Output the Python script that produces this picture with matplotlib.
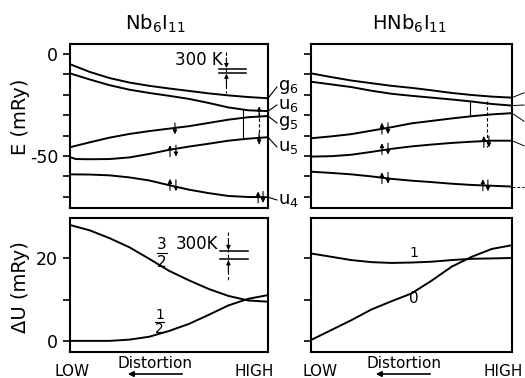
import numpy as np
import matplotlib
matplotlib.use("Agg")
import matplotlib.pyplot as plt

plt.rcParams['font.family'] = ['DejaVu Sans']
plt.rcParams['mathtext.default'] = 'regular'
plt.rcParams['axes.unicode_minus'] = False

# Distortion axis: 0 = LOW, 1 = HIGH
x = [0.0, 0.1, 0.2, 0.3, 0.4, 0.5, 0.6, 0.7, 0.8, 0.9, 1.0]

# Nb6I11 levels (mRy)
nb_g6 = [-5.0, -8.8, -11.8, -14.0, -15.6, -16.9, -18.1, -19.3, -20.3, -21.1, -21.7]
nb_u6 = [-9.5, -12.5, -15.3, -17.5, -19.1, -20.5, -22.0, -24.0, -26.2, -27.6, -28.0]
nb_g5 = [-45.7, -43.3, -41.0, -39.2, -37.8, -36.6, -35.4, -33.8, -32.2, -31.0, -30.4]
nb_u5_x = [0.0, 0.03, 0.1, 0.2, 0.3, 0.4, 0.5, 0.6, 0.7, 0.8, 0.9, 1.0]
nb_u5 = [-50.6, -51.5, -51.6, -51.5, -50.7, -49.0, -47.0, -45.4, -44.0, -42.5, -41.5, -40.8]
nb_u4 = [-59.0, -59.1, -59.5, -60.5, -62.0, -64.3, -66.5, -68.2, -69.6, -70.1, -70.2]

# HNb6I11 levels (mRy)
h_g6 = [-9.5, -11.3, -13.0, -14.3, -15.6, -16.6, -17.8, -19.1, -20.1, -20.9, -21.4]
h_u6 = [-13.6, -14.9, -16.2, -18.0, -19.5, -20.5, -21.4, -22.3, -23.3, -24.5, -25.3]
h_g5 = [-41.3, -40.4, -39.3, -37.6, -35.9, -34.0, -32.8, -31.6, -30.5, -29.6, -29.0]
h_u5 = [-50.3, -50.1, -49.4, -48.0, -46.5, -45.3, -44.4, -43.6, -43.0, -42.5, -42.5]
h_u4 = [-57.7, -58.3, -59.0, -60.0, -61.2, -62.1, -62.8, -63.6, -64.2, -64.6, -65.0]

# Delta U (mRy)
nb_s32 = [28.1, 26.8, 24.9, 22.7, 19.9, 17.0, 14.7, 12.6, 10.9, 9.8, 9.5]
nb_s12 = [0.0, 0.0, 0.0, 0.3, 1.0, 2.4, 4.1, 6.3, 8.6, 10.2, 11.1]
h_s1 = [21.2, 20.4, 19.6, 19.1, 18.9, 19.0, 19.2, 19.6, 19.9, 20.0, 20.1]
h_s0 = [0.2, 2.6, 5.0, 7.6, 9.6, 11.5, 14.6, 18.0, 20.4, 22.3, 23.2]

W, H = 525, 378
fig = plt.figure(figsize=(W / 100, H / 100), dpi=100)


def box(x0, y0, x1, y1):
    return [x0 / W, 1 - y1 / H, (x1 - x0) / W, (y1 - y0) / H]


ax1 = fig.add_axes(box(70, 44, 268, 208))
ax2 = fig.add_axes(box(311, 44, 512, 208))
ax3 = fig.add_axes(box(70, 218, 268, 352))
ax4 = fig.add_axes(box(311, 218, 512, 352))

for ax in (ax1, ax2):
    ax.set_ylim(-75.5, 4.9)
    ax.set_yticks([-50, 0])
    ax.set_yticks([-70, -60, -40, -30, -20, -10], minor=True)
for ax in (ax3, ax4):
    ax.set_ylim(-2.7, 29.8)
    ax.set_yticks([0, 20])
    ax.set_yticks([10], minor=True)
for ax in (ax1, ax2, ax3, ax4):
    ax.set_xlim(0, 1)
    ax.set_xticks([])
    for s in ax.spines.values():
        s.set_linewidth(1.5)
    ax.tick_params(axis='y', which='both', direction='out', length=5, width=1.2, labelsize=12.5)
for ax in (ax2, ax4):
    ax.set_yticklabels([])

lw = 1.4
for ys in (nb_g6, nb_u6, nb_g5, nb_u4):
    ax1.plot(x, ys, color='k', lw=lw)
ax1.plot(nb_u5_x, nb_u5, color='k', lw=lw)
for ys in (h_g6, h_u6, h_g5, h_u5, h_u4):
    ax2.plot(x, ys, color='k', lw=lw)
ax3.plot(x, nb_s32, color='k', lw=lw)
ax3.plot(x, nb_s12, color='k', lw=lw)
ax4.plot(x, h_s1, color='k', lw=lw)
ax4.plot(x, h_s0, color='k', lw=lw)

# titles and axis labels
fig.text(155 / W, 1 - 24 / H, r'Nb$_6$I$_{11}$', ha='center', va='center', fontsize=14)
fig.text(410 / W, 1 - 24 / H, r'HNb$_6$I$_{11}$', ha='center', va='center', fontsize=14)
fig.text(20 / W, 1 - 117 / H, 'E (mRy)', rotation=90, ha='center', va='center', fontsize=14)
fig.text(20 / W, 1 - 287 / H, 'ΔU (mRy)', rotation=90, ha='center', va='center', fontsize=14)

for x0, xd, xh, xa0, xa1 in ((72, 155, 254, 185, 125), (320, 404, 503, 433, 373)):
    fig.text(x0 / W, 1 - 371 / H, 'LOW', ha='center', va='center', fontsize=11)
    fig.text(xd / W, 1 - 363 / H, 'Distortion', ha='center', va='center', fontsize=11)
    fig.text(xh / W, 1 - 371 / H, 'HIGH', ha='center', va='center', fontsize=11)
    fig.add_artist(matplotlib.patches.FancyArrowPatch(
        (xa0 / W, 1 - 374 / H), (xa1 / W, 1 - 374 / H), transform=fig.transFigure,
        arrowstyle='-|>', mutation_scale=8, lw=1.2, color='k'))


def spin(ax, xx, y, up=True, h=2.8):
    a, b = (y - h, y + h) if up else (y + h, y - h)
    ax.annotate('', xy=(xx, b), xytext=(xx, a),
                arrowprops=dict(arrowstyle='-|>', lw=0.8, color='k', mutation_scale=6,
                                shrinkA=0, shrinkB=0))


def scale_mark(ax, xc, y_hi, y_lo, ytop, ybot):
    ax.plot([xc - 0.04, xc + 0.1], [y_hi, y_hi], color='k', lw=1.1)
    ax.plot([xc - 0.04, xc + 0.1], [y_lo, y_lo], color='k', lw=1.1)
    ax.plot([xc, xc], [ytop, ybot], color='k', lw=0.8, ls=(0, (3, 2)))
    spin(ax, xc, y_hi + (ytop - y_hi) * 0.35, up=False, h=(ytop - y_hi) * 0.3)
    spin(ax, xc, y_lo - (y_lo - ybot) * 0.35, up=True, h=(y_lo - ybot) * 0.3)


# Nb6I11 annotations
ax1.text(0.77, -2.8, '300 K', ha='right', va='center', fontsize=12)
scale_mark(ax1, 0.79, -7.3, -9.2, 1.0, -19.0)
ax1.plot([0.874, 0.874], [-27.5, -41.9], color='k', lw=0.8)
ax1.plot([0.955, 0.955], [-26.0, -44.6], color='k', lw=0.8, ls=(0, (3, 2)))
spin(ax1, 0.955, -28.5, up=True)
spin(ax1, 0.955, -41.5, up=False)
spin(ax1, 0.53, -36.6, up=False)
spin(ax1, 0.505, -47.5, up=True)
spin(ax1, 0.535, -47.5, up=False)
spin(ax1, 0.505, -64.0, up=True)
spin(ax1, 0.535, -64.5, up=False)
spin(ax1, 0.95, -70.2, up=True)
spin(ax1, 0.975, -70.2, up=False)

labels = [('g$_6$', -21.7, 87), ('u$_6$', -28.0, 105), ('g$_5$', -30.4, 123),
          ('u$_5$', -40.8, 147), ('u$_4$', -70.2, 200)]
for txt, yend, ypx in labels:
    ylab = -(ypx - 54) / 2.04
    ax1.plot([1.0, 1.045], [yend, ylab], color='k', lw=0.8, clip_on=False)
    ax1.text(1.05, ylab, txt, ha='left', va='center', fontsize=13)

# HNb6I11 annotations
ax2.plot([0.79, 0.79], [-23.5, -30.4], color='k', lw=0.8)
ax2.plot([0.875, 0.875], [-23.0, -45.5], color='k', lw=0.8, ls=(0, (3, 2)))
for yy in (-36.5, -46.5, -60.8):
    spin(ax2, 0.353, yy, up=True)
    spin(ax2, 0.383, yy, up=False)
spin(ax2, 0.86, -43.0, up=True)
spin(ax2, 0.885, -43.0, up=False)
spin(ax2, 0.855, -64.2, up=True)
spin(ax2, 0.88, -64.5, up=False)
for y0, y1 in ((-21.4, -19.0), (-25.3, -25.0), (-29.0, -33.0), (-42.5, -45.0)):
    ax2.plot([1.0, 1.06], [y0, y1], color='k', lw=0.7, clip_on=False)
ax2.plot([1.0, 1.06], [-65.0, -65.0], color='k', lw=0.7, ls=(0, (3, 2)), clip_on=False)

# Delta U annotations
ax3.text(0.465, 23.4, '3', ha='center', va='center', fontsize=11)
ax3.plot([0.44, 0.49], [21.2, 21.2], color='k', lw=0.8)
ax3.text(0.465, 18.9, '2', ha='center', va='center', fontsize=11)
ax3.text(0.452, 6.3, '1', ha='center', va='center', fontsize=10)
ax3.plot([0.43, 0.475], [4.6, 4.6], color='k', lw=0.8)
ax3.text(0.452, 2.8, '2', ha='center', va='center', fontsize=10)
ax3.text(0.75, 23.5, '300K', ha='right', va='center', fontsize=12)
scale_mark(ax3, 0.80, 21.8, 19.8, 26.4, 14.5)

ax4.text(0.51, 21.3, '1', ha='center', va='center', fontsize=10)
ax4.text(0.51, 10.3, '0', ha='center', va='center', fontsize=11)

fig.savefig('out.png', dpi=100, facecolor='white')
